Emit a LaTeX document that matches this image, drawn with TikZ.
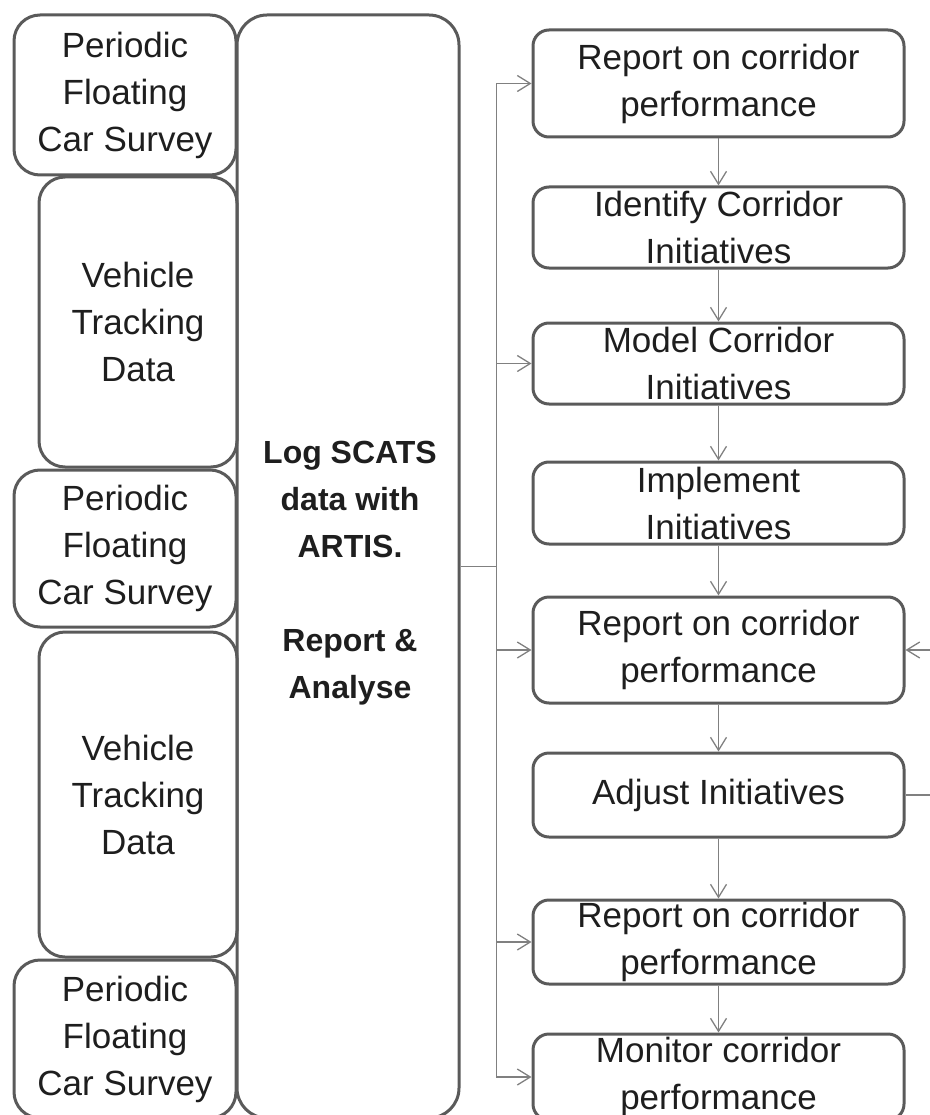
\documentclass[tikz,border=0pt]{standalone}
\usepackage{fontspec}
\setmainfont{Liberation Sans}
\usetikzlibrary{arrows.meta}
\tikzset{
box/.style={draw={rgb, 255:red, 90; green, 90; blue, 90}, line width=3pt, inner sep=0pt, align=center,
  text={rgb, 255:red, 30; green, 30; blue, 30}, font=\fontsize{35}{47}\selectfont},
srcbox/.style={box, rounded corners=26pt},
logbox/.style={box, rounded corners=30pt},
logtext/.style={inner sep=0pt, align=center, text={rgb, 255:red, 30; green, 30; blue, 30}, font=\bfseries\fontsize{32}{47}\selectfont},
stagebox/.style={box, rounded corners=16pt, minimum width=371pt},
link/.style={draw={rgb, 255:red, 128; green, 128; blue, 128}, line width=1.3pt},
conn/.style={link, -{Straight Barb[length=13pt,width=16pt]}}
}

\begin{document}
\begin{tikzpicture}[x=1pt,y=1pt,yscale=-1,xscale=1]
\useasboundingbox (0,0) rectangle (929,1115);

%Shape: Rounded Rect [sources]
\node[srcbox, minimum width=222pt, minimum height=160pt] (pfcsA) at (125,95) {Periodic\\Floating\\Car Survey};
\node[srcbox, minimum width=198pt, minimum height=290pt] (vtdA) at (138,322) {Vehicle\\Tracking\\Data};
\node[srcbox, minimum width=222pt, minimum height=157pt] (pfcsB) at (125,548.5) {Periodic\\Floating\\Car Survey};
\node[srcbox, minimum width=198pt, minimum height=325pt] (vtdB) at (138,794.5) {Vehicle\\Tracking\\Data};
\node[srcbox, minimum width=222pt, minimum height=158pt] (pfcsC) at (125,1039) {Periodic\\Floating\\Car Survey};

%Shape: Rounded Rect [logging]
\node[logbox, minimum width=222pt, minimum height=1103pt] (log) at (348,566.5) {};
% Text Node
\node[logtext] (logtxt) at (350,573) {Log SCATS\\data with\\ARTIS.\\[47pt]Report \&\\Analyse};

%Shape: Rounded Rect [stages]
\node[stagebox, minimum height=107pt] (perfA) at (718.5,83.5) {Report on corridor\\performance};
\node[stagebox, minimum height=81pt] (ident) at (718.5,227.5) {Identify Corridor\\Initiatives};
\node[stagebox, minimum height=81pt] (model) at (718.5,363.5) {Model Corridor\\Initiatives};
\node[stagebox, minimum height=82pt] (implement) at (718.5,503) {Implement\\Initiatives};
\node[stagebox, minimum height=106pt] (perfB) at (718.5,650) {Report on corridor\\performance};
\node[stagebox, minimum height=84pt] (adjust) at (718.5,795) {Adjust Initiatives};
\node[stagebox, minimum height=84pt] (perfC) at (718.5,942) {Report on corridor\\performance};
\node[stagebox, minimum height=86pt] (monitor) at (718.5,1077) {Monitor corridor\\performance};

%Straight Lines [fan out]
\coordinate (split) at ([xshift=36pt]log.east);
\draw[link] (log.east) -- (split);
\draw[conn] (split) |- (perfA.west);
\draw[conn] (split) |- (model.west);
\draw[conn] (split) |- (perfB.west);
\draw[conn] (split) |- (perfC.west);
\draw[conn] (split) |- (monitor.west);

%Straight Lines [chain]
\draw[conn] (perfA) -- (ident);
\draw[conn] (ident) -- (model);
\draw[conn] (model) -- (implement);
\draw[conn] (implement) -- (perfB);
\draw[conn] (perfB) -- (adjust);
\draw[conn] (adjust) -- (perfC);
\draw[conn] (perfC) -- (monitor);

%Straight Lines [feedback]
\coordinate (loop) at ([xshift=40pt]adjust.east);
\draw[conn] (adjust.east) -- (loop) |- (perfB.east);

\end{tikzpicture}
\end{document}
